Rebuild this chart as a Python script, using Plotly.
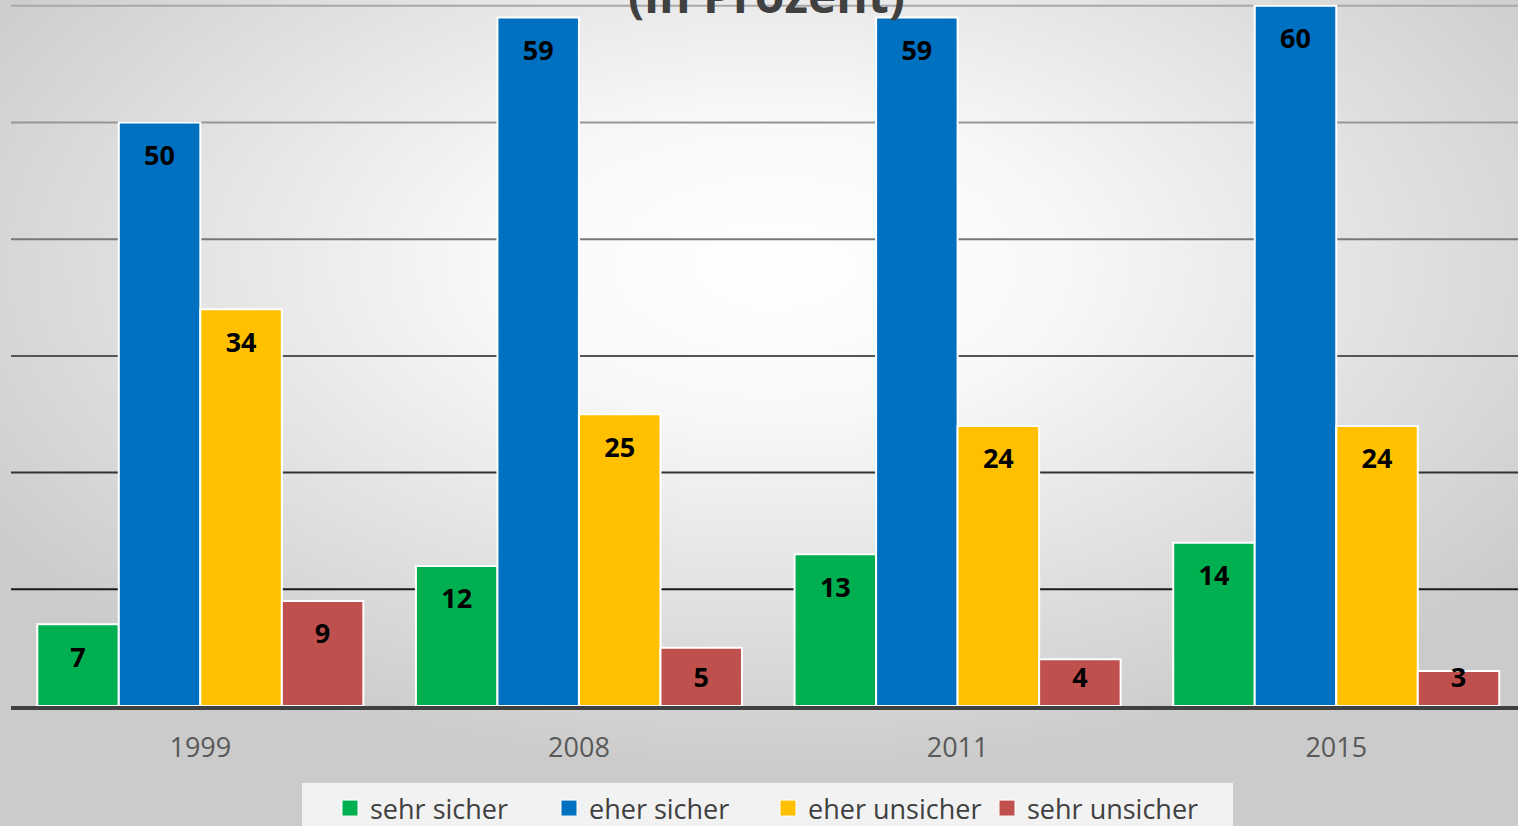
import base64
import plotly.graph_objects as go

# ---- data ----
years = ["1999", "2008", "2011", "2015"]
series_names = ["sehr sicher", "eher sicher", "eher unsicher", "sehr unsicher"]
sehr_sicher = [7, 12, 13, 14]
eher_sicher = [50, 59, 59, 60]
eher_unsicher = [34, 25, 24, 24]
sehr_unsicher = [9, 5, 4, 3]
grid_values = [10, 20, 30, 40, 50, 60]

# ---- style ----
colors = ["#00B050", "#0070C0", "#FFC000", "#C0504D"]
grid_colors = ["#1a1a1a", "#333333", "#555555", "#777777", "#969696", "#a8a8a8"]
W, H = 1518, 826
ML, MR, MT, MB = 11, 0, 0, 120
pitch = 0.2153
font = "Open Sans"

all_series = [sehr_sicher, eher_sicher, eher_unsicher, sehr_unsicher]
pw, ph = W - ML - MR, H - MT - MB

fig = go.Figure()
for j, (name, vals, col) in enumerate(zip(series_names, all_series, colors)):
    xs = [i + (j - 1.5) * pitch for i in range(len(years))]
    fig.add_trace(go.Bar(
        x=xs, y=vals, width=pitch, name=name, showlegend=False,
        marker=dict(color=col, line=dict(color="white", width=2)),
        hoverinfo="y",
    ))
for j, vals in enumerate(all_series):
    xs = [i + (j - 1.5) * pitch for i in range(len(years))]
    ys = [max(v - 3.05, 2.2) for v in vals]
    fig.add_trace(go.Scatter(
        x=xs, y=ys, mode="text", text=[str(v) for v in vals],
        textposition="middle center",
        textfont=dict(family=font, size=27, color="black", weight="bold"),
        showlegend=False, hoverinfo="skip",
    ))
# legend entries (square markers like the reference)
for name, col in zip(series_names, colors):
    fig.add_trace(go.Scatter(
        x=[None], y=[None], mode="markers", name=name,
        marker=dict(symbol="square", size=16, color=col, line=dict(color="white", width=1)),
    ))

# gridlines with individual colours
for gv, gc in zip(grid_values, grid_colors):
    fig.add_shape(type="line", xref="paper", x0=0, x1=1, yref="y", y0=gv, y1=gv,
                  line=dict(color=gc, width=2), layer="below")

# legend box background
fig.add_shape(type="rect", xref="paper", yref="paper",
              x0=(302 - ML) / pw, x1=(1233 - ML) / pw,
              y0=-(H - ph) / ph - 0.05, y1=-(783 - ph) / ph,
              line=dict(width=0), fillcolor="#f2f2f2", layer="below")

# radial gradient background
svg = f'''<svg xmlns="http://www.w3.org/2000/svg" width="{W}" height="{H}" viewBox="0 0 {W} {H}" preserveAspectRatio="none">
<defs><radialGradient id="g" cx="0.51" cy="0.32" r="0.62" gradientUnits="objectBoundingBox">
<stop offset="0" stop-color="#ffffff"/><stop offset="0.3" stop-color="#f8f8f8"/><stop offset="1" stop-color="#cbcbcb"/>
</radialGradient></defs><rect width="{W}" height="{H}" fill="url(#g)"/></svg>'''
src = "data:image/svg+xml;base64," + base64.b64encode(svg.encode()).decode()
fig.add_layout_image(dict(source=src, xref="paper", yref="paper",
                          x=-ML / pw, y=1 + MT / ph, sizex=W / pw, sizey=H / ph,
                          xanchor="left", yanchor="top", sizing="stretch", layer="below"))

fig.add_annotation(text="<b>(in Prozent)</b>", xref="paper", yref="paper", x=0.501, y=1,
                   xanchor="center", yanchor="bottom", yshift=-29, showarrow=False,
                   font=dict(family=font, size=48, color="#404040"))

fig.update_layout(
    width=W, height=H,
    margin=dict(l=ML, r=MR, t=MT, b=MB, pad=0, autoexpand=False),
    paper_bgcolor="#d9d9d9", plot_bgcolor="rgba(0,0,0,0)",
    barmode="overlay", showlegend=True,
    font=dict(family=font, color="#404040"),
    xaxis=dict(range=[-0.5, 3.48], tickmode="array", tickvals=list(range(len(years))),
               ticktext=years, showgrid=False, zeroline=False,
               showline=True, linecolor="#404040", linewidth=4,
               ticks="outside", ticklen=15, tickcolor="rgba(0,0,0,0)",
               tickfont=dict(family=font, size=27, color="#595959")),
    yaxis=dict(range=[0, 60.5], showgrid=False, zeroline=False, showticklabels=False,
               showline=False),
    legend=dict(orientation="h", x=(330 - ML) / pw, xanchor="left", y=-78 / ph, yanchor="top",
                bgcolor="rgba(0,0,0,0)", font=dict(family=font, size=27, color="#404040"),
                itemwidth=30, entrywidth=174, entrywidthmode="pixels"),
)

fig.write_html("out.html", config={"displayModeBar": False},
               post_script="document.body.style.margin='0';document.body.style.overflow='hidden';")
